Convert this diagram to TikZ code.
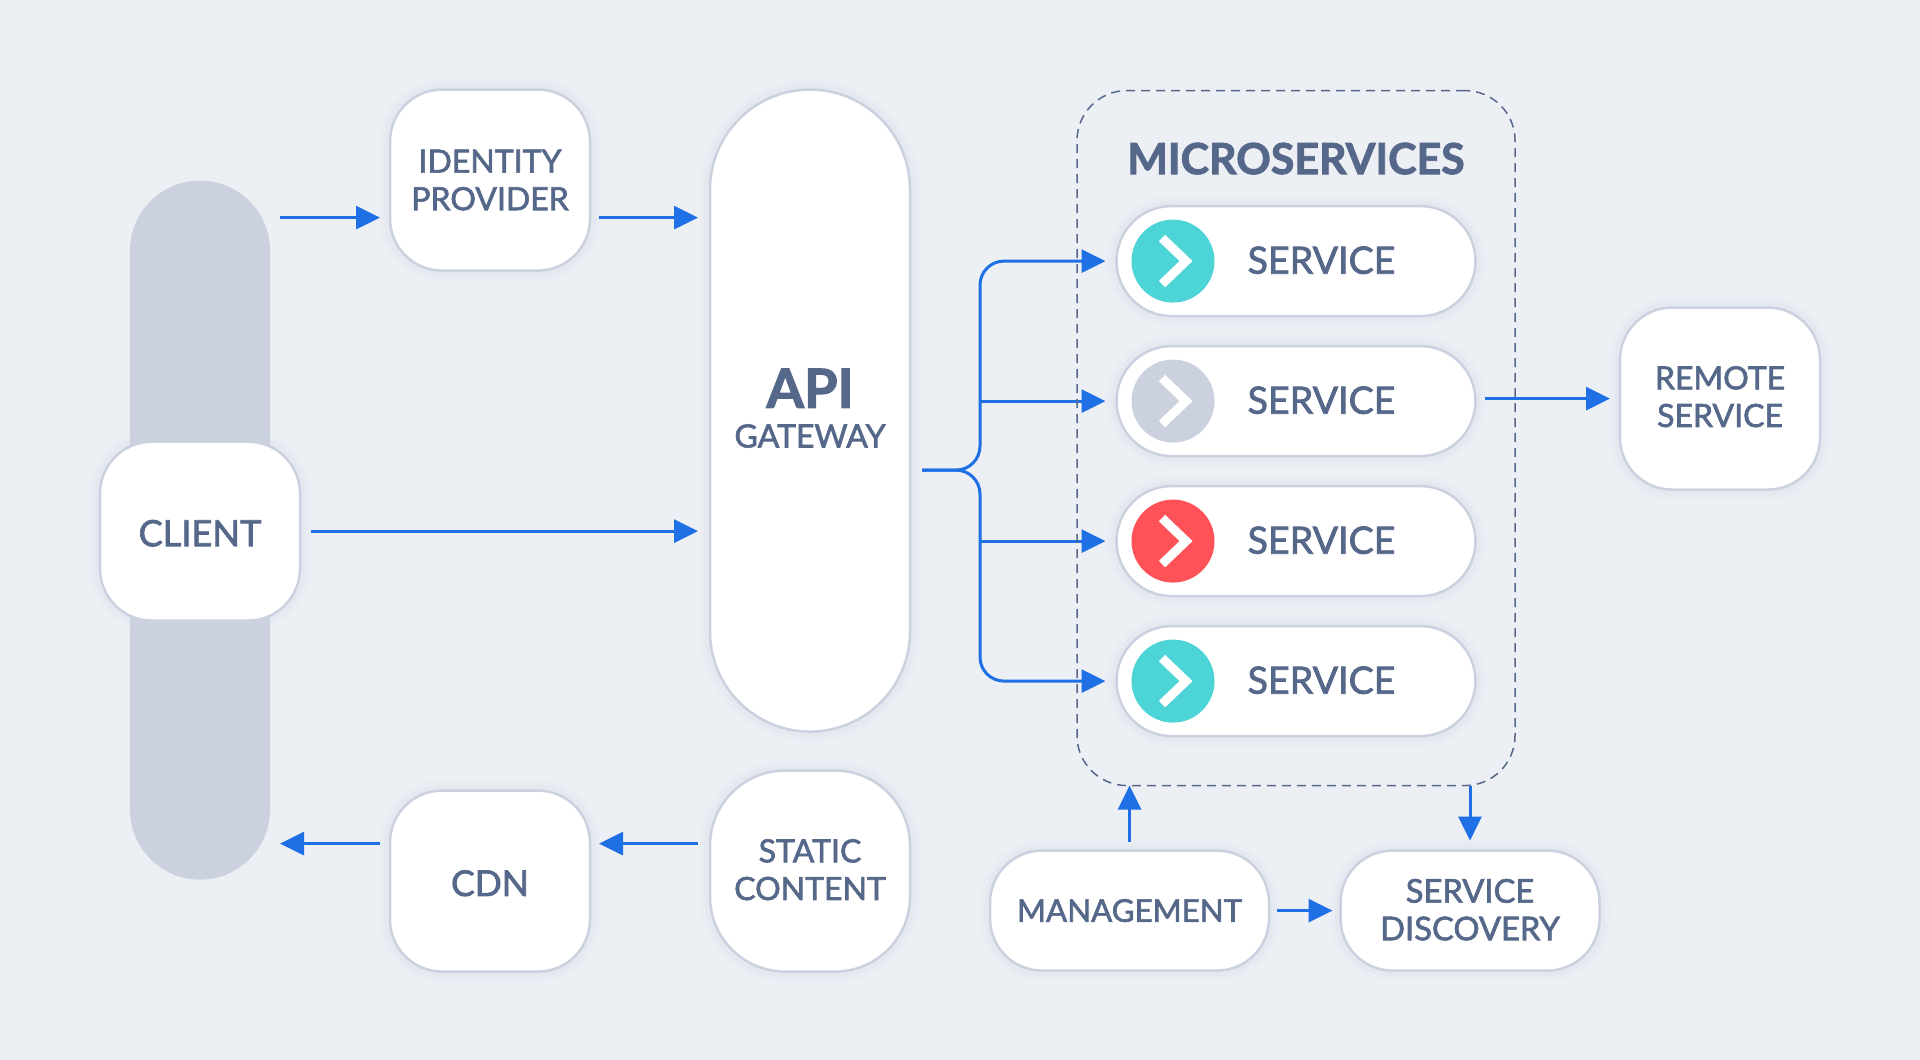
\documentclass[tikz,border=0pt]{standalone}
\usepackage{fontspec}
\setmainfont{Lato}[FakeBold=2]
\usetikzlibrary{arrows.meta}
\definecolor{backcol}{HTML}{ECEFF4}
\definecolor{edgecol}{HTML}{CBD1DE}
\definecolor{inkcol}{HTML}{56688A}
\definecolor{wirecol}{HTML}{1F6FE5}
\definecolor{tealcol}{HTML}{4DD4D6}
\definecolor{redcol}{HTML}{FF5258}
\tikzset{
  card/.style={rectangle,draw=edgecol,line width=.025cm,fill=white,text=inkcol,
    align=center,outer sep=0pt,inner sep=0pt,rounded corners=.52cm,
    font=\fontsize{9.1}{10.7}\selectfont,
    preaction={draw=edgecol,line width=.2cm,draw opacity=.08},
    preaction={draw=edgecol,line width=.11cm,draw opacity=.14}},
  wire/.style={draw=wirecol,line width=.03cm},
  flow/.style={wire,-{Triangle[length=.24cm,width=.23cm]}},
  dot/.style={circle,minimum size=.83cm,inner sep=0pt,outer sep=0pt}
}
\begin{document}
\begin{tikzpicture}[line cap=butt,x=1cm,y=1cm]
\fill[backcol] (0,.006) rectangle (19.2,10.606);
\useasboundingbox (0,.006) rectangle (19.2,10.606);
% left band and the cards
\node[rectangle,fill=edgecol,rounded corners=.7cm,minimum width=1.4cm,
minimum height=6.99cm,inner sep=0pt,outer sep=0pt] (band) at (2,5.305) {};
\node[card,minimum width=2cm,minimum height=1.79cm,font=\fontsize{10.3}{11}\selectfont] (client) at (2,5.295)
{\raisebox{-.02cm}[\height][0pt]{CLIENT}};
\node[card,minimum width=2cm,minimum height=1.81cm] (identity) at (4.9,8.805) {IDENTITY\\PROVIDER};
\node[card,minimum width=2cm,minimum height=6.42cm,rounded corners=1cm,text depth=.05cm] (api) at (8.1,6.5)
{{\fontsize{15.4}{16}\selectfont\bfseries API}\\[.02cm]GATEWAY};
\node[card,minimum width=2cm,minimum height=2.01cm,rounded corners=.75cm,text depth=.03cm] (static) at (8.1,1.895)
{STATIC\\CONTENT};
\node[card,minimum width=2cm,minimum height=1.81cm,font=\fontsize{10.1}{11}\selectfont] (cdn) at (4.9,1.795)
{\raisebox{-.02cm}[\height][0pt]{CDN}};
\node[card,minimum width=2.79cm,minimum height=1.2cm,font=\fontsize{8.9}{10}\selectfont] (management) at (11.295,1.5)
{MANAGEMENT};
\node[card,minimum width=2.59cm,minimum height=1.2cm,font=\fontsize{9.3}{10.7}\selectfont,text depth=.02cm] (discovery) at (14.7,1.5)
{SERVICE\\DISCOVERY};
\node[card,minimum width=2cm,minimum height=1.82cm,text depth=.04cm] (remote) at (17.2,6.62) {REMOTE\\SERVICE};
% the four services
\foreach \i/\c/\y in {A/tealcol/7.995,B/edgecol/6.595,C/redcol/5.195,D/tealcol/3.795}{
\node[card,minimum width=3.59cm,minimum height=1.1cm,rounded corners=.55cm,text depth=.02cm,
font=\fontsize{10.7}{12}\selectfont] (svc\i) at (12.96,\y)
{\hspace*{.51cm}SERVICE};
\node[dot,fill=\c] (icon\i) at (11.73,\y) {};
\draw[white,line width=.09cm] ([shift={(-.11,.23)}]icon\i.center) -- ([shift={(.13,0)}]icon\i.center)
-- ([shift={(-.11,-.23)}]icon\i.center);
}
\node[text=inkcol,font=\fontsize{12.2}{13}\selectfont\bfseries] (title) at (12.96,9.02) {MICROSERVICES};
% arrows
\coordinate (upper) at (0,8.43);
\coordinate (lower) at (0,2.17);
\coordinate (fork) at (9.22,5.905);
\coordinate (bus) at (9.8,5.905);
\draw[flow,shorten <=.1cm,shorten >=.1cm] (band.east |- upper) -- (identity.west |- upper);
\draw[flow,shorten <=.09cm,shorten >=.12cm] (identity.east |- upper) -- (api.west |- upper);
\draw[flow,shorten <=.11cm,shorten >=.12cm] (client) ++(1,0) -- (api.west |- client);
\draw[flow,shorten <=.12cm,shorten >=.09cm] (api.west |- lower) -- (cdn.east |- lower);
\draw[flow,shorten <=.1cm,shorten >=.1cm] (cdn.west |- lower) -- (band.east |- lower);
\draw[flow,rounded corners=.24cm,shorten >=.11cm] (fork) -| (bus |- svcA) -- (svcA.west);
\draw[flow,rounded corners=.24cm,shorten >=.11cm] (fork) -| (bus |- svcD) -- (svcD.west);
\draw[flow,shorten >=.11cm] (bus |- svcB) -- (svcB.west);
\draw[flow,shorten >=.11cm] (bus |- svcC) -- (svcC.west);
\draw[flow,shorten <=.09cm,shorten >=.1cm] (svcB.east |- remote) -- (remote.west);
\draw[flow,shorten <=.08cm,shorten >=.08cm] (management) -- (discovery);
% dashed frame
\node[draw=inkcol,line width=.015cm,dash pattern=on .09cm off .06cm,rectangle,rounded corners=.5cm,
minimum width=4.38cm,minimum height=6.95cm,inner sep=0pt,outer sep=0pt] (frame) at (12.96,6.225) {};
\draw[flow,shorten <=.09cm] (management.north) -- (management |- frame.south);
\draw[flow,shorten >=.1cm] (discovery |- frame.south) -- (discovery.north);
\end{tikzpicture}
\end{document}
